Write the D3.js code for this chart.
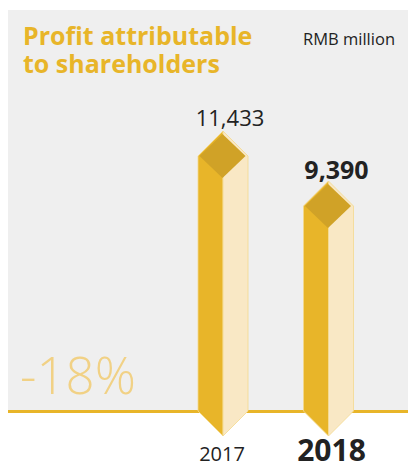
<!DOCTYPE html>
<html>
<head>
<meta charset="utf-8">
<script src="https://cdn.jsdelivr.net/npm/d3@7"></script>
<style>
  html, body { margin: 0; padding: 0; background: #fff; }
  svg { display: block; }
  text { font-family: "Open Sans", "Noto Sans", sans-serif; }
</style>
</head>
<body>
<div id="chart"></div>
<script>
// data
const years = ['2017', '2018'];
const profits = [11433, 9390];
const valueLabels = ['11,433', '9,390'];
const changeLabel = '-18%';

const width = 408, height = 465;
const gold = '#E8B529', cream = '#F9E8C5', diamond = '#D0A227', edge = '#F4D98E';

const svg = d3.select('#chart').append('svg')
    .attr('width', width)
    .attr('height', height);

// scales
const x = d3.scalePoint().domain(years).range([223, 328.5]);
const y = d3.scaleLinear().domain([0, 11433]).range([436, 156]);
const half = 25;
const baseY = y(0) - half; // where the arrow tips start

// grey panel
svg.append('rect')
    .attr('x', 8).attr('y', 10)
    .attr('width', width - 8).attr('height', baseY - 10)
    .attr('fill', '#EFEFEF');

// baseline
svg.append('rect')
    .attr('x', 8).attr('y', baseY - 1)
    .attr('width', width - 8).attr('height', 3)
    .attr('fill', gold);

// title
svg.append('text')
    .attr('x', 23).attr('y', 45)
    .attr('font-size', 25).attr('font-weight', 700)
    .attr('fill', gold)
    .selectAll('tspan')
    .data(['Profit attributable', 'to shareholders'])
    .join('tspan')
    .attr('x', 23)
    .attr('dy', (d, i) => i ? 28 : 0)
    .text(d => d);

svg.append('text')
    .attr('x', 395).attr('y', 45)
    .attr('text-anchor', 'end')
    .attr('font-size', 16.5)
    .attr('fill', '#222')
    .text('RMB million');

// change label
svg.append('text')
    .attr('x', 20).attr('y', 394)
    .attr('font-size', 51).attr('font-weight', 300)
    .attr('fill', '#F1D185')
    .text(changeLabel);

const bars = svg.selectAll('g.bar')
    .data(years.map((d, i) => ({ year: d, value: profits[i], label: valueLabels[i], i })))
    .join('g')
    .attr('class', 'bar');

// left (gold) half
bars.append('path')
    .attr('d', d => {
        const cx = x(d.year), top = y(d.value);
        return `M${cx - half},${top} L${cx},${top - half} L${cx},${y(0)} L${cx - half},${baseY} Z`;
    })
    .attr('fill', gold)
    .attr('stroke', edge).attr('stroke-width', 0.8);

// right (cream) half
bars.append('path')
    .attr('d', d => {
        const cx = x(d.year), top = y(d.value);
        return `M${cx},${top - half} L${cx + half},${top} L${cx + half},${baseY} L${cx},${y(0)} Z`;
    })
    .attr('fill', cream)
    .attr('stroke', edge).attr('stroke-width', 0.8);

// diamond cap
bars.append('path')
    .attr('d', d => {
        const cx = x(d.year) - 0.5, cy = y(d.value);
        return `M${cx - 23},${cy} L${cx},${cy - 22} L${cx + 23},${cy} L${cx},${cy + 22} Z`;
    })
    .attr('fill', diamond);

// value labels
bars.append('text')
    .attr('x', d => x(d.year) + (d.i ? 8 : 7))
    .attr('y', d => y(d.value) - (d.i ? 27 : 30))
    .attr('text-anchor', 'middle')
    .attr('font-size', d => d.i ? 25 : 22)
    .attr('font-weight', d => d.i ? 700 : 400)
    .attr('fill', '#222')
    .text(d => d.label);

// year labels
bars.append('text')
    .attr('x', d => x(d.year) + (d.i ? 3 : -1))
    .attr('y', 461)
    .attr('text-anchor', 'middle')
    .attr('font-size', d => d.i ? 30 : 20)
    .attr('font-weight', d => d.i ? 700 : 400)
    .attr('fill', '#222')
    .text(d => d.year);
</script>
</body>
</html>
